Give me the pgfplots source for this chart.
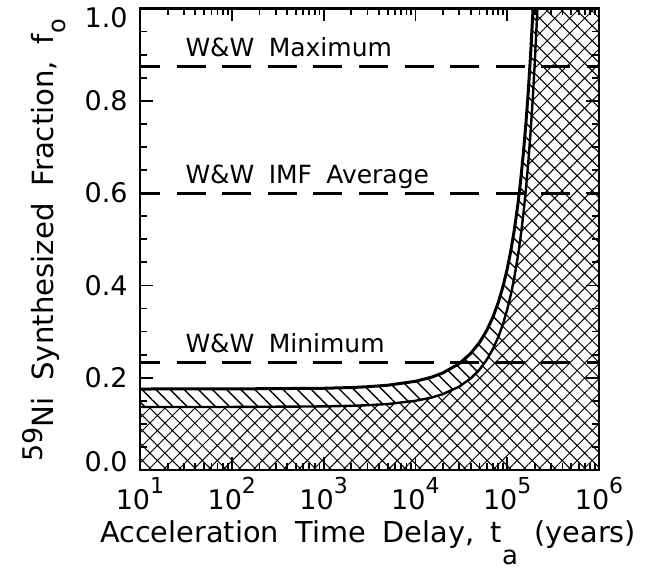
\documentclass[border=0pt]{standalone}
\usepackage{pgfplots}
\pgfplotsset{compat=1.18}
\usepackage{fontspec}
\setmainfont{DejaVu Sans}[WordSpace=1.8]
\usetikzlibrary{patterns.meta}
\newcommand{\tp}[1]{10\raisebox{8pt}{\fontsize{11}{11}\selectfont #1}}
\begin{document}
\begin{tikzpicture}
\begin{axis}[
  scale only axis,
  width=229.5pt, height=230.75pt,
  xmode=log,
  xmin=10, xmax=1e6, ymin=0, ymax=1,
  xtick={10,100,1000,10000,100000,1000000},
  xticklabels={\tp{1},\tp{2},\tp{3},\tp{4},\tp{5},\tp{6}},
  ytick={0,0.2,0.4,0.6,0.8,1.0},
  yticklabels={{\raisebox{4pt}[\height][\depth]{0.0}},{0.2},{0.4},{0.6},{0.8},{\raisebox{-4.5pt}[\height][\depth]{1.0}}},
  minor y tick num=3,
  every tick label/.append style={font=\fontsize{13.5}{15}\selectfont, inner sep=0pt},
  xticklabel style={yshift=-3.5pt},
  yticklabel style={xshift=-6pt},
  tick align=inside,
  major tick length=6.5pt, minor tick length=3.5pt,
  every tick/.style={black, line width=0.9pt},
  axis line style={line width=1.3pt},
  axis on top,
  xlabel={Acceleration Time Delay, t\raisebox{-11pt}{\fontsize{13}{13}\selectfont a} (years)},
  xlabel style={font=\fontsize{14.4}{16}\selectfont, at={(axis description cs:0.497,-0.158)}, anchor=base, inner sep=0pt},
  ylabel={\raisebox{5.5pt}{\fontsize{13.5}{13.5}\selectfont 59}Ni Synthesized Fraction, f\raisebox{-6pt}{\fontsize{12}{12}\selectfont o}},
  ylabel style={font=\fontsize{14.6}{16}\selectfont, at={(axis description cs:-0.1895,0.017)}, anchor=base west, inner sep=0pt},
]
% cross-hatched region below the lower curve
\addplot[draw=none, pattern={Hatch[angle=45,distance=5.3pt,line width=0.5pt]}] coordinates {
(10,0) (10,0.1365) (100,0.1366) (1000,0.1378) (2000,0.1391) (3000,0.1404) (5000,0.1430)
(10000,0.1499) (15000,0.1570) (20000,0.1646) (30000,0.1807) (40000,0.1984) (50000,0.2178)
(60000,0.2392) (70000,0.2626) (80000,0.2883) (90000,0.3165) (100000,0.3476) (110000,0.3816)
(120000,0.4190) (130000,0.4600) (140000,0.5051) (150000,0.5546) (160000,0.6089) (170000,0.6686)
(180000,0.7340) (190000,0.8060) (200000,0.8850) (210000,0.9714) (213100,1.0)
(1000000,1.0) (1000000,0)
} -- cycle;
% single-hatched band between the curves
\addplot[draw=none, pattern={Lines[angle=-45,distance=5pt,line width=0.7pt]}] coordinates {
(10,0.1755) (100,0.1757) (1000,0.1771) (2000,0.1787) (3000,0.1804) (5000,0.1837)
(10000,0.1922) (15000,0.2011) (20000,0.2105) (30000,0.2305) (40000,0.2525) (50000,0.2765)
(60000,0.3028) (70000,0.3316) (80000,0.3632) (90000,0.3978) (100000,0.4356) (110000,0.4771)
(120000,0.5225) (130000,0.5722) (140000,0.6266) (150000,0.6863) (160000,0.7516) (170000,0.8231)
(180000,0.9014) (191400,1.0)
(213100,1.0) (210000,0.9714) (200000,0.8850) (190000,0.8060) (180000,0.7340) (170000,0.6686)
(160000,0.6089) (150000,0.5546) (140000,0.5051) (130000,0.4600) (120000,0.4190) (110000,0.3816)
(100000,0.3476) (90000,0.3165) (80000,0.2883) (70000,0.2626) (60000,0.2392) (50000,0.2178)
(40000,0.1984) (30000,0.1807) (20000,0.1646) (15000,0.1570) (10000,0.1499) (5000,0.1430)
(3000,0.1404) (2000,0.1391) (1000,0.1378) (100,0.1366) (10,0.1365)
} -- cycle;
% upper curve
\addplot[black, line width=1.5pt] coordinates {
(10,0.1755) (100,0.1757) (1000,0.1771) (2000,0.1787) (3000,0.1804) (5000,0.1837)
(10000,0.1922) (15000,0.2011) (20000,0.2105) (30000,0.2305) (40000,0.2525) (50000,0.2765)
(60000,0.3028) (70000,0.3316) (80000,0.3632) (90000,0.3978) (100000,0.4356) (110000,0.4771)
(120000,0.5225) (130000,0.5722) (140000,0.6266) (150000,0.6863) (160000,0.7516) (170000,0.8231)
(180000,0.9014) (191400,1.0)
};
% lower curve
\addplot[black, line width=1.2pt] coordinates {
(10,0.1365) (100,0.1366) (1000,0.1378) (2000,0.1391) (3000,0.1404) (5000,0.1430)
(10000,0.1499) (15000,0.1570) (20000,0.1646) (30000,0.1807) (40000,0.1984) (50000,0.2178)
(60000,0.2392) (70000,0.2626) (80000,0.2883) (90000,0.3165) (100000,0.3476) (110000,0.3816)
(120000,0.4190) (130000,0.4600) (140000,0.5051) (150000,0.5546) (160000,0.6089) (170000,0.6686)
(180000,0.7340) (190000,0.8060) (200000,0.8850) (210000,0.9714) (213100,1.0)
};
% W&W reference levels
\addplot[black, line width=1.5pt, dash pattern=on 14.5pt off 8.3pt, dash phase=4.5pt] coordinates {(10,0.875) (1000000,0.875)};
\addplot[black, line width=1.5pt, dash pattern=on 14.5pt off 8.3pt, dash phase=4.5pt] coordinates {(10,0.600) (1000000,0.600)};
\addplot[black, line width=1.5pt, dash pattern=on 14.5pt off 8.3pt, dash phase=4.5pt] coordinates {(10,0.232) (1000000,0.232)};
\node[anchor=base west, inner sep=0pt, yshift=5pt, font=\fontsize{12.5}{14}\selectfont] at (axis cs:31,0.875) {W\&W Maximum};
\node[anchor=base west, inner sep=0pt, yshift=5pt, font=\fontsize{12.5}{14}\selectfont] at (axis cs:31,0.600) {W\&W IMF Average};
\node[anchor=base west, inner sep=0pt, yshift=5pt, font=\fontsize{12.5}{14}\selectfont] at (axis cs:31,0.232) {W\&W Minimum};
\end{axis}
\pgfresetboundingbox
\path[use as bounding box] ([xshift=-70pt,yshift=-51.5pt]current axis.south west) rectangle ([xshift=29pt,yshift=4.25pt]current axis.north east);
\end{tikzpicture}
\end{document}
